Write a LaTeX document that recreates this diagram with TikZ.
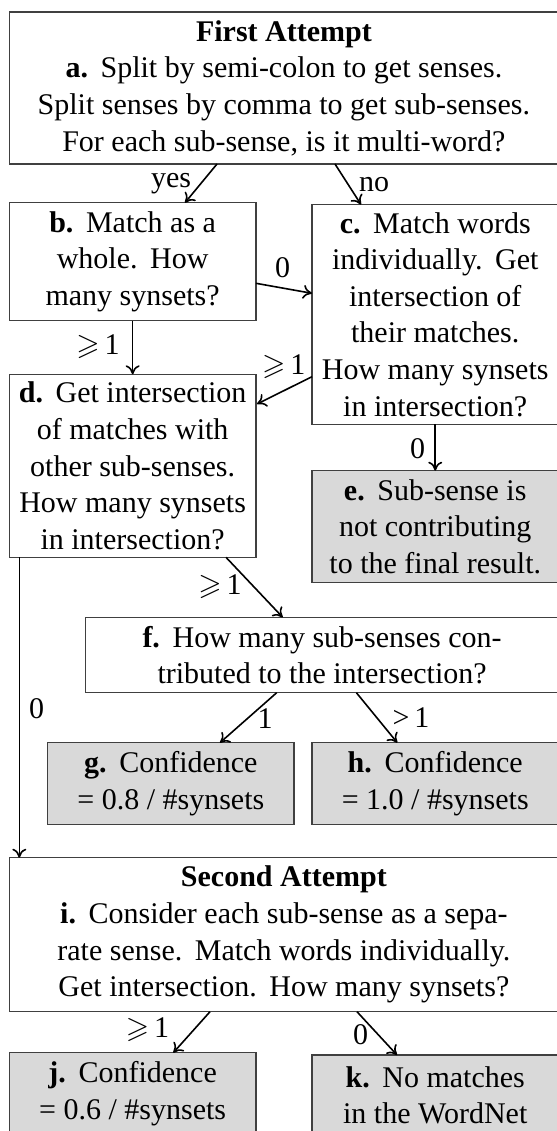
\documentclass[tikz,border=0pt]{standalone}
\usepackage{amssymb}
\usepackage{fontspec}
\setmainfont{Liberation Serif}
\usetikzlibrary{calc,arrows.meta}

% wider space after a sentence or an item letter
\newcommand\sgap{\hspace{0.42em}}

\tikzset{
  box/.style={draw=black!75, line width=0.7pt, inner sep=0pt, outer sep=0pt,
    anchor=north west, align=center, font=\fontsize{15}{18.3}\selectfont},
  gbox/.style={box, fill=black!15},
  arr/.style={line width=0.8pt, -{Computer Modern Rightarrow[length=4.5pt,width=7pt]}},
  lbl/.style={inner sep=0pt, font=\fontsize{15}{18.3}\selectfont}
}

\begin{document}
\begin{tikzpicture}[x=0.5pt,y=-0.5pt]
\path[use as bounding box] (0,0) rectangle (557,1131);
\clip (0,0) rectangle (557,1131);

% boxes
\node[box, minimum width=274.6pt, minimum height=76pt] (a) at (9.3,12)
  {\textbf{First Attempt}\\
   \textbf{a.}\sgap Split by semi-colon to get senses.\\
   Split senses by comma to get sub-senses.\\
   For each sub-sense, is it multi-word?};
\node[box, minimum width=123.35pt, minimum height=59pt] (b) at (9.3,202.7)
  {\textbf{b.}\sgap Match as a\\ whole.\sgap How\\ many synsets?};
\node[box, minimum width=123.25pt, minimum height=109.9pt] (c) at (312,204.5)
  {\textbf{c.}\sgap Match words\\ individually.\sgap Get\\ intersection of\\ their matches.\\ How many synsets\\ in intersection?};
\node[box, minimum width=123.35pt, minimum height=91.5pt] (d) at (9.3,374.3)
  {\textbf{d.}\sgap Get intersection\\ of matches with\\ other sub-senses.\\ How many synsets\\ in intersection?};
\node[gbox, minimum width=123.25pt, minimum height=55.8pt] (e) at (312,470.7)
  {\textbf{e.}\sgap Sub-sense is\\ not contributing\\ to the final result.};
\node[box, minimum width=236.4pt, minimum height=37.7pt] (f) at (85.7,617.3)
  {\textbf{f.}\sgap How many sub-senses con-\\ tributed to the intersection?};
\node[gbox, minimum width=123.15pt, minimum height=40.9pt] (g) at (47.7,742.7)
  {\textbf{g.}\sgap Confidence\\ = 0.8 / \#synsets};
\node[gbox, minimum width=123.25pt, minimum height=40.9pt] (h) at (312,742.7)
  {\textbf{h.}\sgap Confidence\\ = 1.0 / \#synsets};
\node[box, minimum width=274.6pt, minimum height=77pt] (i) at (9.3,857.7)
  {\textbf{Second Attempt}\\
   \textbf{i.}\sgap Consider each sub-sense as a sepa-\\
   rate sense.\sgap Match words individually.\\
   Get intersection.\sgap How many synsets?};
\node[gbox, minimum width=123.35pt, minimum height=40.75pt] (j) at (9.3,1052.7)
  {\textbf{j.}\sgap Confidence\\ = 0.6 / \#synsets};
\node[gbox, minimum width=123.25pt, minimum height=40.5pt] (k) at (312,1055)
  {\textbf{k.}\sgap No matches\\ in the WordNet};

% connectors
\draw[arr] ($(a.south west)+(207.7,0)$) -- ($(b.north west)+(175.7,0)$);
\draw[arr] ($(a.south west)+(325.7,0)$) -- ($(c.north west)+(49,0)$);
\draw[arr] ($(b.north east)+(0,80.6)$) -- ($(c.north west)+(0,88.8)$);
\draw[arr] (b.south) -- (d.north);
\draw[arr] ($(c.north west)+(0,172.2)$) -- ($(d.north east)+(1,29.7)$);
\draw[arr] (c.south) -- (e.north);
\draw[arr] ($(d.south west)+(216.7,0)$) -- ($(f.north west)+(197,0)$);
\draw[arr] ($(d.south west)+(10,0)$) -- ($(i.north west)+(10,0)$);
\draw[arr] ($(f.south west)+(191,0)$) -- ($(g.north west)+(172.3,0)$);
\draw[arr] ($(f.south west)+(270.7,0)$) -- ($(h.north west)+(85.3,0)$);
\draw[arr] ($(i.south west)+(200.7,0)$) -- ($(j.north west)+(164,0)$);
\draw[arr] ($(i.south west)+(347.7,0)$) -- ($(k.north west)+(85,0)$);

% connector labels
\node[lbl] (lyes) at (171,184) {yes};
\node[lbl] (lno) at (374,185) {no};
\node[lbl] (lbc) at (282.5,268) {0};
\node[lbl] (lbd) at (98,347) {$\geqslant$\,1};
\node[lbl] (lcd) at (283.7,367) {$\geqslant$\,1};
\node[lbl] (lce) at (417.5,449) {0};
\node[lbl] (ldf) at (220,587) {$\geqslant$\,1};
\node[lbl] (ldi) at (36.7,709) {0};
\node[lbl] (lfg) at (265,719) {1};
\node[lbl] (lfh) at (411,718) {>\,1};
\node[lbl] (lij) at (147.5,1030) {$\geqslant$\,1};
\node[lbl] (lik) at (360.7,1035) {0};
\end{tikzpicture}
\end{document}
